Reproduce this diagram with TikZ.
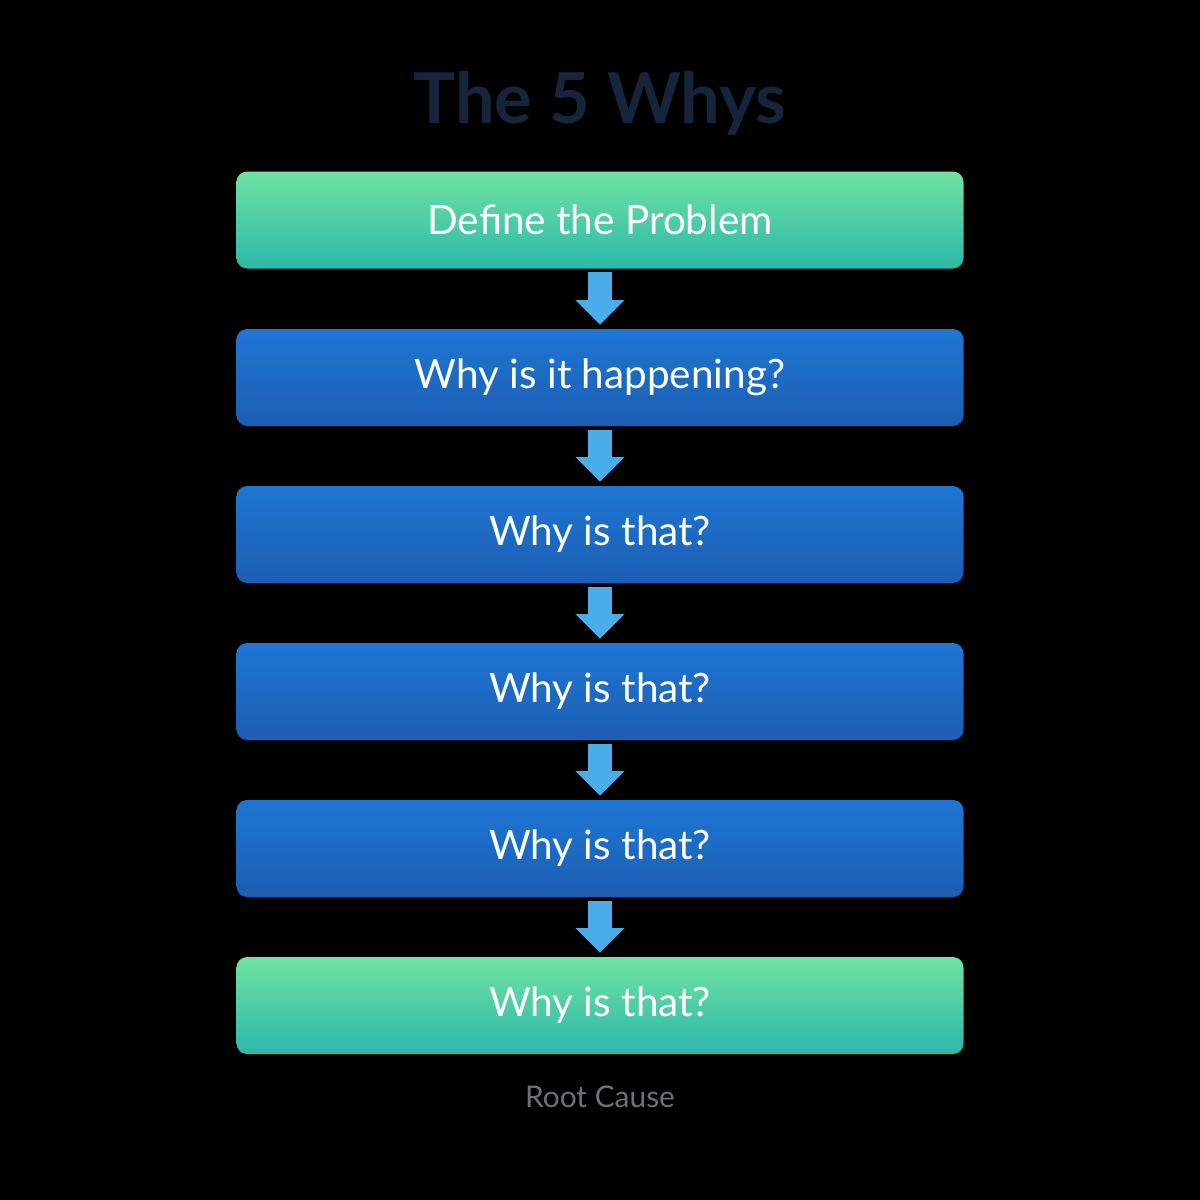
\documentclass[tikz,border=0pt]{standalone}
\usepackage{fontspec}
\setmainfont{Lato}
\usetikzlibrary{arrows.meta}
\definecolor{gtop}{RGB}{112,226,162}
\definecolor{gbot}{RGB}{44,184,170}
\definecolor{btop}{RGB}{30,118,212}
\definecolor{bbot}{RGB}{28,94,178}
\definecolor{arr}{RGB}{74,172,232}
\definecolor{navy}{RGB}{22,36,60}
\definecolor{grayt}{RGB}{110,112,118}
\begin{document}
\begin{tikzpicture}[x=0.02cm,y=-0.02cm,
 box/.style={rounded corners=6pt,minimum width=727*0.02cm,minimum height=97*0.02cm,text=white,font=\fontsize{23}{27}\selectfont},
 gbox/.style={box,top color=gtop,bottom color=gbot},
 bbox/.style={box,top color=btop,bottom color=bbot},
 conn/.style={arr,line width=13.6pt,-{Triangle[width=27pt,length=14pt]},shorten <=2pt,shorten >=2.2pt}]
\fill[black] (0,0) rectangle (1200,1200);
\useasboundingbox (0,0) rectangle (1200,1200);
\node[font=\bfseries\fontsize{40}{46}\selectfont,text=navy] (t) at (600,103) {The 5 Whys};
\node[gbox] (b1) at (600,220) {Define the Problem};
\node[bbox] (b2) at (600,377.5) {Why is it happening?};
\node[bbox] (b3) at (600,534.5) {Why is that?};
\node[bbox] (b4) at (600,691.5) {Why is that?};
\node[bbox] (b5) at (600,848.5) {Why is that?};
\node[gbox] (b6) at (600,1005.5) {Why is that?};
\node[text=grayt,font=\fontsize{17}{20}\selectfont] (rc) at (600,1097) {Root Cause};
\foreach \a/\b in {b1/b2,b2/b3,b3/b4,b4/b5,b5/b6}
  \draw[conn] (\a.south) -- (\b.north);
\end{tikzpicture}
\end{document}
